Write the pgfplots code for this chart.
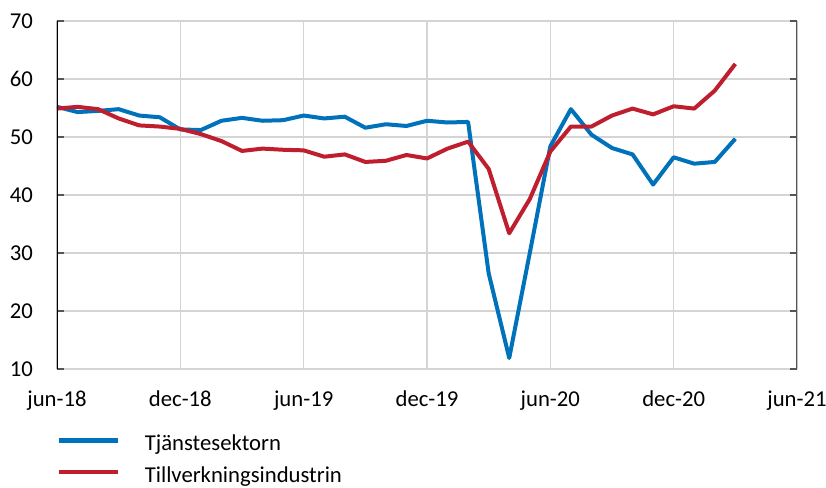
\documentclass[border=0pt]{standalone}
\usepackage{fontspec}
\setmainfont{Carlito}
\usepackage{pgfplots}
\pgfplotsset{compat=1.18}
\definecolor{rbblue}{RGB}{0,114,187}
\definecolor{rbred}{RGB}{190,30,45}
\definecolor{gridgray}{RGB}{212,212,212}
\definecolor{tickgray}{RGB}{85,85,85}
\begin{document}
\begin{tikzpicture}
\begin{axis}[
  at={(0pt,0pt)}, anchor=south west,
  scale only axis, width=740pt, height=348pt,
  xmin=0, xmax=36, ymin=10, ymax=70,
  xtick={0,6,...,36},
  xticklabels={jun-18,dec-18,jun-19,dec-19,jun-20,dec-20,jun-21},
  ytick={10,20,...,70},
  grid=major, grid style={gridgray, line width=1.3pt},
  axis line style={draw=none},
  ytick pos=both, tick align=inside, major tick length=7pt,
  y tick style={tickgray, line width=1.3pt},
  x tick style={draw=none},
  tick label style={font=\fontsize{22.7}{27}\selectfont, inner sep=0pt},
  y tick label style={anchor=east, xshift=-24pt},
  x tick label style={anchor=north, yshift=-22pt},
  /pgf/number format/assume math mode=true,
  legend style={at={(rel axis cs:0,0)}, anchor=north west, yshift=-66pt,
    draw=none, fill=none, inner sep=0pt, outer sep=0pt,
    column sep=24.5pt, row sep=14pt,
    font=\fontsize{22.7}{27}\selectfont, nodes={inner sep=0pt}},
  legend cell align=left,
  legend image code/.code={\draw[#1, line width=4.3pt] (0pt,0.3em) -- (59pt,0.3em);},
  every axis plot/.append style={line width=4pt, line join=round},
]
\addplot[rbblue] coordinates {
  (0,55.2) (1,54.3) (2,54.5) (3,54.8) (4,53.7) (5,53.4) (6,51.3) (7,51.2)
  (8,52.8) (9,53.3) (10,52.8) (11,52.9) (12,53.7) (13,53.2) (14,53.5) (15,51.6)
  (16,52.2) (17,51.9) (18,52.8) (19,52.5) (20,52.6) (21,26.5) (22,11.9) (23,30.0)
  (24,48.4) (25,54.8) (26,50.4) (27,48.1) (28,47.0) (29,41.8) (30,46.5) (31,45.4)
  (32,45.7) (33,49.7)
};
\addlegendentry{Tjänstesektorn}
\addplot[rbred] coordinates {
  (0,54.9) (1,55.2) (2,54.8) (3,53.2) (4,52.0) (5,51.8) (6,51.4) (7,50.5)
  (8,49.3) (9,47.6) (10,48.0) (11,47.8) (12,47.7) (13,46.6) (14,47.0) (15,45.7)
  (16,45.9) (17,46.9) (18,46.3) (19,48.0) (20,49.2) (21,44.5) (22,33.4) (23,39.3)
  (24,47.5) (25,51.8) (26,51.8) (27,53.7) (28,54.9) (29,53.9) (30,55.3) (31,54.9)
  (32,58.0) (33,62.6)
};
\addlegendentry{Tillverkningsindustrin}
\draw[black, line width=1.3pt] (rel axis cs:0,0) -- (rel axis cs:0,1);
\draw[tickgray, line width=1.3pt] (rel axis cs:1,0) -- (rel axis cs:1,1);
\end{axis}
\pgfresetboundingbox
\path[use as bounding box] (-57pt,-118pt) rectangle (769pt,369pt);
\end{tikzpicture}
\end{document}
